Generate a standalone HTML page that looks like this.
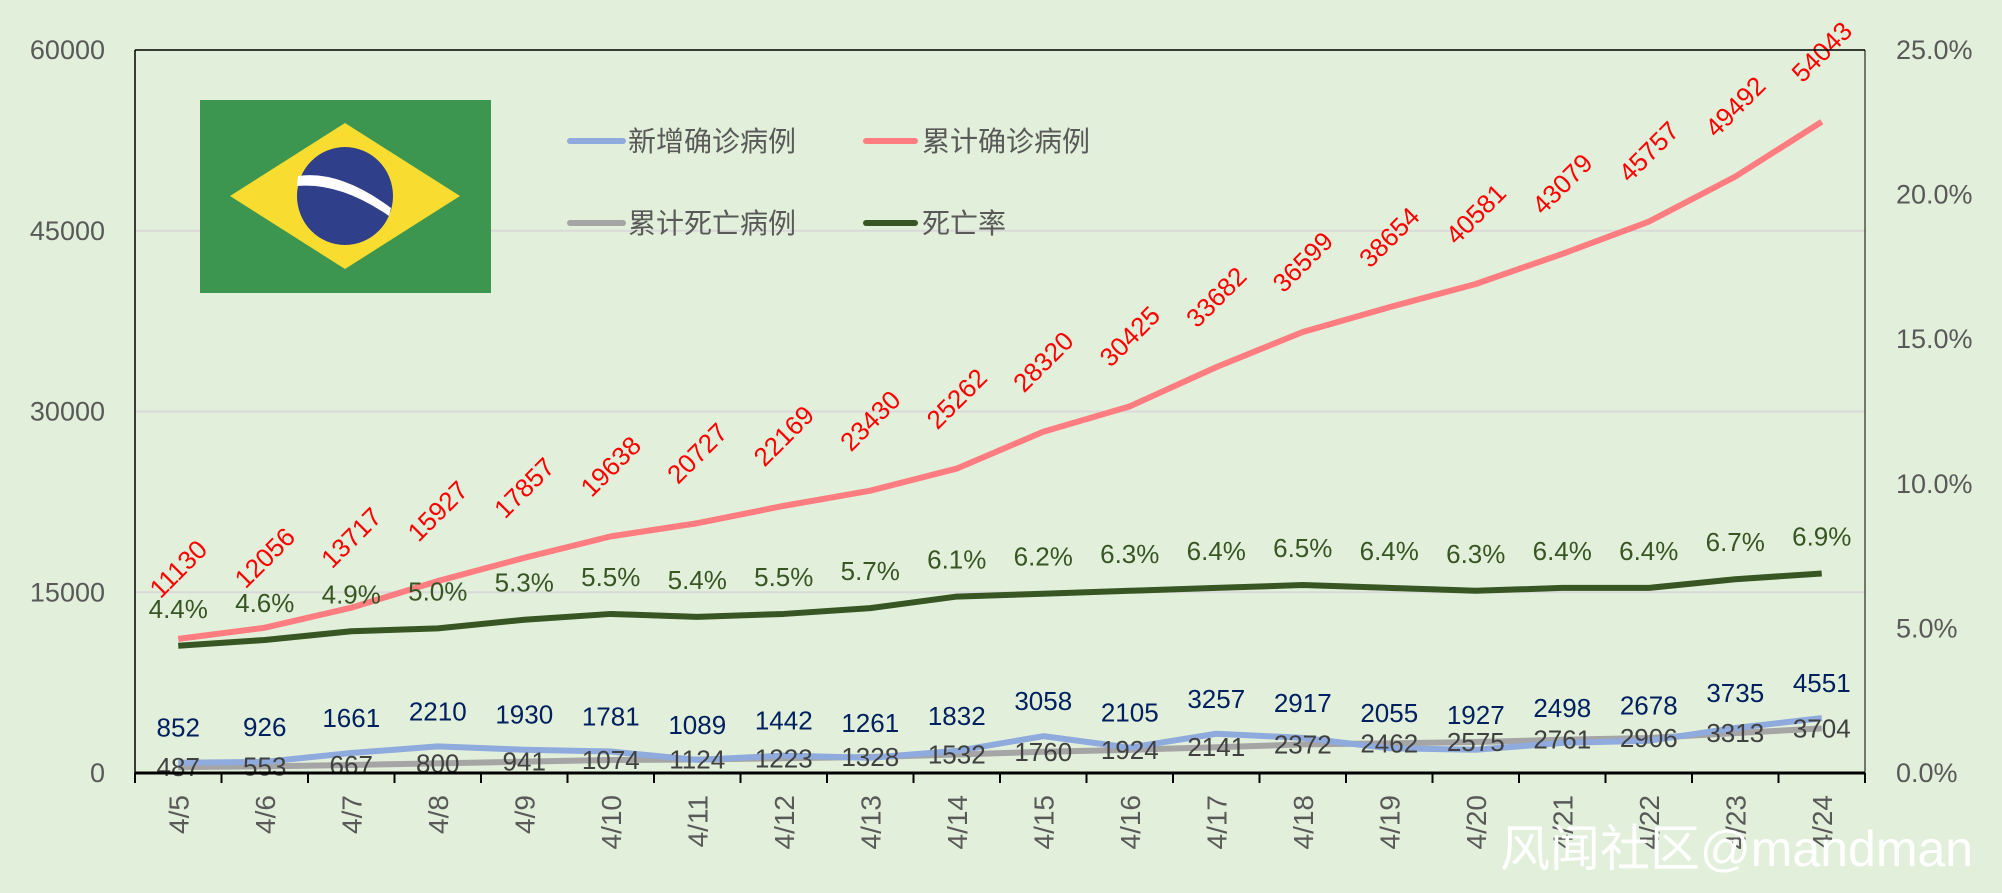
<!DOCTYPE html>
<html><head><meta charset="utf-8"><style>
body{margin:0;background:#e2efda;}
svg{display:block;font-family:"Liberation Sans","Noto Sans CJK SC",sans-serif;}
</style></head><body>
<svg id="c" width="2002" height="893" viewBox="0 0 2002 893">
<rect width="2002" height="893" fill="#e2efda"/>
<g id="grid"></g>
<g id="flag">
<rect x="200" y="100" width="291" height="193" fill="#3c9650"/>
<polygon points="230,196 345,123 460,196 345,269" fill="#f8dc30"/>
<ellipse cx="345" cy="196" rx="48" ry="49" fill="#2f3f8a"/>
<path d="M298,176 Q340,170 391,208 L389,216 Q340,182 297,186 Z" fill="#fff"/>
</g>
<g id="lines"></g>
<g id="labels"></g>
<g id="axes"></g>
<g id="legend" font-size="28" fill="#595959">
<line x1="570" y1="141" x2="623" y2="141" stroke="#8faadc" stroke-width="6" stroke-linecap="round"/>
<text x="628" y="151">新增确诊病例</text>
<line x1="866" y1="141" x2="915" y2="141" stroke="#ff7c80" stroke-width="6" stroke-linecap="round"/>
<text x="922" y="151">累计确诊病例</text>
<line x1="570" y1="223" x2="623" y2="223" stroke="#a5a5a5" stroke-width="6" stroke-linecap="round"/>
<text x="628" y="233">累计死亡病例</text>
<line x1="866" y1="223" x2="915" y2="223" stroke="#375623" stroke-width="6" stroke-linecap="round"/>
<text x="922" y="233">死亡率</text>
</g>
<text x="1500" y="866" font-size="50" fill="#ffffff">风闻社区@mandman</text>
</svg>
<script>
const categories=["4/5","4/6","4/7","4/8","4/9","4/10","4/11","4/12","4/13","4/14","4/15","4/16","4/17","4/18","4/19","4/20","4/21","4/22","4/23","4/24"];
const newCases=[852,926,1661,2210,1930,1781,1089,1442,1261,1832,3058,2105,3257,2917,2055,1927,2498,2678,3735,4551];
const cumCases=[11130,12056,13717,15927,17857,19638,20727,22169,23430,25262,28320,30425,33682,36599,38654,40581,43079,45757,49492,54043];
const deaths=[487,553,667,800,941,1074,1124,1223,1328,1532,1760,1924,2141,2372,2462,2575,2761,2906,3313,3704];
const deathRate=[4.4,4.6,4.9,5.0,5.3,5.5,5.4,5.5,5.7,6.1,6.2,6.3,6.4,6.5,6.4,6.3,6.4,6.4,6.7,6.9];
const leftTicks=[0,15000,30000,45000,60000];
const rightTicks=[0,5,10,15,20,25];

const L=135,R=1865,T=50,B=773,NS="http://www.w3.org/2000/svg";
const step=(R-L)/categories.length;
const x=i=>L+step*(i+0.5);
const yL=v=>B-v/60000*(B-T);
const yR=v=>B-v/25*(B-T);
function mk(tag,attrs,parent,txt){const e=document.createElementNS(NS,tag);for(const k in attrs)e.setAttribute(k,attrs[k]);if(txt!=null)e.textContent=txt;document.getElementById(parent).appendChild(e);return e;}

leftTicks.forEach(v=>{
  if(v>0&&v<60000){const g=mk('line',{x1:L,x2:R,y1:yL(v),y2:yL(v),stroke:'#d9d9d9','stroke-width':2},'grid');
  
  }
  const t=mk('text',{x:105,y:yL(v)+9,'text-anchor':'end','font-size':27,fill:'#595959'},'axes',String(v));
  
  
});
rightTicks.forEach(v=>{
  const t=mk('text',{x:1896,y:yR(v)+9,'font-size':27,fill:'#595959'},'axes',v.toFixed(1)+'%');
  
  
});
let a=mk('line',{x1:L,x2:L,y1:T,y2:B,stroke:'#000','stroke-width':1.5},'axes');


a=mk('line',{x1:L,x2:R,y1:T,y2:T,stroke:'#000','stroke-width':1.5},'axes');


a=mk('line',{x1:R,x2:R,y1:T,y2:B,stroke:'#000','stroke-width':1},'axes');


a=mk('line',{x1:L,x2:R,y1:B,y2:B,stroke:'#000','stroke-width':3},'axes');


for(let i=0;i<=categories.length;i++){
  const tk=mk('line',{x1:L+step*i,x2:L+step*i,y1:B,y2:B+10,stroke:'#000','stroke-width':2},'axes');
  
  
}
categories.forEach((c,i)=>{
  const t=mk('text',{x:0,y:0,'text-anchor':'end','font-size':28,fill:'#595959',transform:`translate(${x(i)+10},795) rotate(-90)`},'axes',c);
  
  
});

function series(vals,yf,color,name){
  const p=mk('polyline',{points:vals.map((v,i)=>x(i)+','+yf(v)).join(' '),fill:'none',stroke:color,'stroke-width':6,'stroke-linejoin':'round'},'lines');
  
  
}
series(deaths,yL,'#a5a5a5','deaths-line');
series(newCases,yL,'#8faadc','new-cases-line');
series(cumCases,yL,'#ff7c80','cumulative-line');
series(deathRate,yR,'#375623','death-rate-line');

newCases.forEach((v,i)=>{
  const t=mk('text',{x:x(i),y:yL(v)-26,'text-anchor':'middle','font-size':26,fill:'#002060'},'labels',String(v));
  
  
});
deaths.forEach((v,i)=>{
  const t=mk('text',{x:x(i),y:yL(v)+9,'text-anchor':'middle','font-size':26,fill:'#404040'},'labels',String(v));
  
  
});
deathRate.forEach((v,i)=>{
  const t=mk('text',{x:x(i),y:yR(v)-28,'text-anchor':'middle','font-size':26,fill:'#375623'},'labels',v.toFixed(1)+'%');
  
  
});
cumCases.forEach((v,i)=>{
  const t=mk('text',{x:0,y:9,'text-anchor':'middle','font-size':26,fill:'#ff0000',transform:`translate(${x(i)},${yL(v)-70}) rotate(-45)`},'labels',String(v));
  
  
});
</script>
</body></html>
